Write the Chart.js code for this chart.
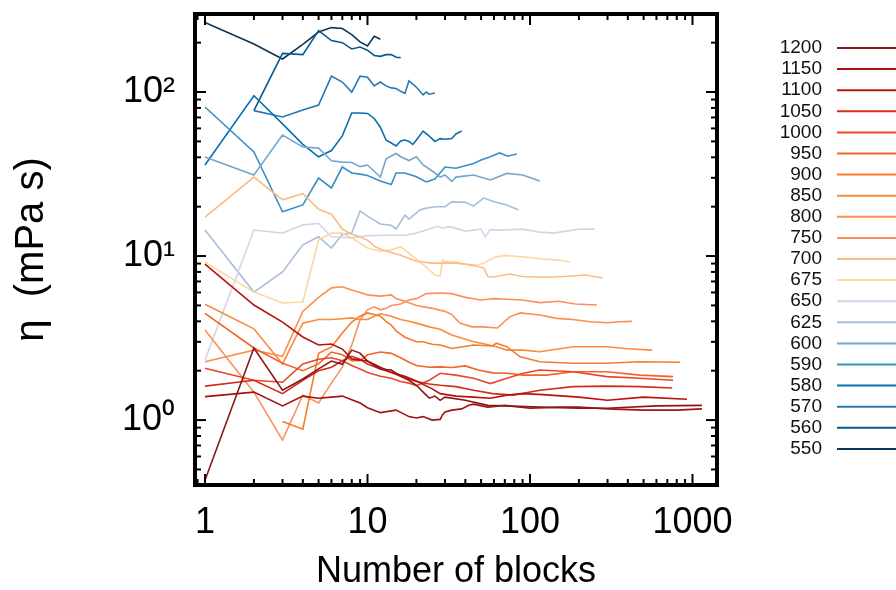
<!DOCTYPE html>
<html>
<head>
<meta charset="utf-8">
<script src="https://cdn.jsdelivr.net/npm/chart.js@4"></script>
<style>
  html, body { margin: 0; background: #fff; }
</style>
</head>
<body>
<canvas id="chart" width="896" height="590"></canvas>
<script>
// viscosity vs number of blocks, one series per temperature
const temps = ['1200', '1150', '1100', '1050', '1000', '950', '900', '850', '800', '750',
               '700', '675', '650', '625', '600', '590', '580', '570', '560', '550'];

const s1200 = [[1,0.43],[2,2.75],[3,1.52],[4,1.78],[5,2.05],[6,2.29],[7,2.19],[8,2.67],[9,2.56],[10,2.29],[12,2.05],[14,2.02],[16,1.85],[18,1.75],[20,1.63],[22,1.48],[24,1.36],[26,1.4],[28,1.32],[30,1.38],[40,1.32],[55,1.23],[70,1.22],[115,1.2],[200,1.18],[300,1.18],[600,1.22],[1143,1.23]];
const s1150 = [[1,1.39],[2,1.48],[3,1.22],[4,1.4],[5,1.36],[6,1.38],[7,1.4],[8,1.33],[9,1.27],[10,1.19],[12,1.11],[15,1.15],[18,1.05],[20,1.03],[22,1.05],[25,1.0],[28,1.01],[29,1.08],[30,1.12],[33,1.15],[38,1.17],[42,1.23],[45,1.25],[55,1.2],[70,1.23],[100,1.18],[150,1.2],[200,1.2],[300,1.17],[500,1.15],[800,1.15],[1143,1.17]];
const s1100 = [[1,8.94],[2,5.03],[3,3.96],[4,3.21],[5,2.87],[6,2.91],[7,2.71],[8,2.36],[9,2.32],[10,2.29],[11,2.19],[12,2.1],[14,1.96],[17,1.85],[20,1.73],[25,1.55],[28,1.45],[35,1.4],[45,1.38],[57,1.36],[72,1.42],[90,1.45],[120,1.43],[200,1.38],[300,1.32],[500,1.38],[925,1.34]];
const s1050 = [[1,1.61],[2,1.75],[3,1.45],[4,1.75],[5,2.0],[6,2.1],[7,2.3],[8,2.45],[9,2.35],[10,2.2],[12,2.05],[14,1.95],[16,1.85],[18,1.78],[20,1.72],[24,1.66],[28,1.63],[35,1.6],[45,1.52],[59,1.45],[79,1.42],[115,1.52],[184,1.6],[297,1.61],[475,1.6],[750,1.57]];
const s1000 = [[1,2.07],[2,1.75],[3,1.7],[4,2.2],[5,2.35],[6,2.4],[7,2.3],[8,2.15],[9,2.05],[10,1.95],[12,1.85],[14,1.8],[16,1.72],[18,1.68],[20,1.62],[24,1.75],[28,1.93],[35,1.88],[45,1.8],[57,1.67],[72,1.8],[91,1.93],[115,2.02],[184,1.97],[297,1.84],[475,1.8],[760,1.75]];
const s950 = [[1,4.47],[2,2.75],[3,2.22],[4,2.0],[5,2.2],[6,2.6],[7,2.5],[8,2.3],[9,2.3],[10,2.5],[12,2.6],[14,2.55],[16,2.4],[18,2.25],[20,2.15],[24,2.1],[28,2.11],[33,2.09],[40,2.14],[48,2.02],[59,1.94],[72,1.93],[91,1.88],[126,1.88],[184,1.97],[297,1.97],[475,1.88],[760,1.84]];
const s900 = [[3,0.98],[4,0.88],[5,2.55],[6,2.79],[7,3.4],[8,3.96],[9,4.3],[10,4.5],[11,4.4],[12,4.3],[13,4.0],[14,3.8],[15,3.5],[17,3.2],[20,3.0],[22,3.0],[25,2.9],[28,2.87],[33,2.73],[45,2.87],[59,2.83],[62,2.94],[72,2.8],[87,2.43],[115,2.27],[184,2.22],[297,2.22],[475,2.27],[838,2.25]];
const s850 = [[1,5.08],[2,3.6],[3,2.2],[4,3.9],[5,4.1],[6,4.1],[7,4.15],[8,4.2],[9,4.1],[10,4.1],[11,4.3],[12,4.45],[14,4.3],[16,4.1],[18,4.0],[20,3.9],[24,3.7],[28,3.58],[33,3.3],[45,3.0],[51,2.93],[62,2.8],[72,2.67],[91,2.67],[115,2.61],[184,2.8],[297,2.8],[400,2.72],[565,2.67]];
const s800 = [[1,2.27],[2,2.67],[3,2.45],[4,4.6],[5,5.6],[6,6.4],[7,6.5],[8,6.2],[9,6.0],[10,5.8],[12,5.7],[14,5.8],[15,5.5],[17,5.3],[20,5.0],[25,4.8],[30,4.6],[33,4.4],[37,3.9],[44,3.7],[51,3.7],[63,3.64],[75,4.26],[87,4.5],[115,4.37],[146,4.17],[184,4.1],[235,3.98],[297,3.92],[357,3.98],[424,4.0]];
const s750 = [[1,3.54],[2,1.48],[3,0.755],[4,1.42],[5,1.27],[6,1.68],[7,2.1],[8,2.87],[9,4.08],[10,4.7],[11,4.9],[12,4.7],[13,4.8],[14,5.0],[16,5.1],[18,5.4],[20,5.5],[23,5.9],[28,5.95],[33,5.9],[40,5.6],[50,5.4],[60,5.5],[72,5.45],[90,5.4],[115,5.2],[150,5.3],[190,5.1],[258,5.03]];
const s700 = [[1,17.3],[2,30.3],[3,22],[4,24],[5,19.3],[6,18],[7,14.6],[8,13.6],[9,13.1],[10,12.5],[11,11.5],[12,11],[14,10.5],[16,10.1],[18,9.67],[20,9.3],[25,9.06],[30,9.06],[35,9.06],[45,8.8],[52,8.45],[55,7.5],[60,7.45],[75,7.77],[90,7.5],[110,7.45],[140,7.45],[180,7.56],[220,7.66],[280,7.35]];
const s675 = [[1,9.19],[2,6.03],[3,5.17],[4,5.25],[5,12.5],[6,13.8],[7,13.8],[8,12.9],[10,11.2],[12,10.7],[14,10.9],[16,11.4],[18,10.4],[20,9.58],[23,8.56],[26,7.66],[28,7.56],[29,9.45],[30,9.3],[35,9.2],[45,8.7],[52,9.06],[60,9.8],[70,10.1],[100,9.8],[120,9.6],[150,9.45],[176,9.19]];
const s650 = [[1,2.32],[2,14.4],[3,13.8],[4,15.5],[5,15.8],[6,13.1],[8,12.9],[10,13.3],[13,13.4],[17,13.4],[20,13.8],[27,15.2],[29,14.8],[32,15.1],[40,14.2],[50,14.6],[53,13.1],[57,14.5],[65,14.4],[90,14.6],[115,14],[140,13.8],[200,14.6],[250,14.6]];
const s625 = [[1,14.4],[2,6.03],[3,8.0],[4,11.7],[5,13.1],[6,11.2],[7,13.6],[8,13.8],[9,18.8],[10,17.5],[12,15.7],[14,15.4],[15,14.6],[17,17.8],[18,16.8],[21,19.1],[23,19.6],[26,20],[30,20],[33,21.4],[40,21.3],[45,20.2],[52,22.6],[60,21.4],[72,20.5],[85,19.1]];
const s600 = [[1,40.1],[2,31.2],[3,54.7],[4,46.2],[5,45.5],[6,38.1],[7,37.4],[8,37.2],[9,35.1],[10,35.9],[12,30.3],[13,39],[14,40.7],[15,42.2],[16,40.3],[18,38.2],[20,40.3],[22,35.9],[25,33],[28,30.3],[30,31.2],[33,28.5],[35,30.3],[45,31.2],[57,29.1],[72,31.9],[90,31.2],[115,28.7]];
const s590 = [[1,81],[2,43.1],[3,18.6],[4,20.5],[5,29.9],[6,26],[7,34.9],[8,32.1],[9,31.6],[10,31],[12,28.7],[14,27.3],[15,32.1],[17,32.1],[20,30.4],[23,28.3],[26,29.5],[30,34.9],[35,34.3],[45,36.7],[50,38.5],[57,40.3],[65,42.5],[73,40.6],[83,41.9]];
const s580 = [[1,35.9],[2,95],[3,64],[4,48],[5,40.3],[6,44],[7,54],[8,74.5],[9,74.5],[10,74],[11,69],[12,61],[13,51],[14,48.9],[15,46.9],[16,50.3],[17,51],[18,50],[19,47.9],[20,51],[22,57.8],[24,53.8],[26,50],[28,52],[30,51.5],[33,52],[35,55.5],[38,57.8]];
const s570 = [[2,77],[3,70.4],[4,77.7],[5,83.3],[6,125],[7,115],[8,100],[9,125],[10,123],[11,109],[12,115],[13,109],[14,106],[15,105],[16,101],[17,98],[18,117],[20,107],[22,96],[23,100],[24,97],[26,98.6]];
const s560 = [[2,77],[3,172],[4,169],[5,237],[6,206],[7,200],[8,183],[9,188],[10,180],[11,167],[12,165],[13,169],[14,169],[15,163],[16,162]];
const s550 = [[1,265],[2,196],[3,159],[4,195],[5,232],[6,247],[7,244],[8,224],[9,202],[10,191],[11,219],[12,210]];

const series = [s1200, s1150, s1100, s1050, s1000, s950, s900, s850, s800, s750,
                s700, s675, s650, s625, s600, s590, s580, s570, s560, s550];

const xTicks = [1, 10, 100, 1000];
const yTicks = [1, 10, 100];

const colors = ['#871a17', '#a3120f', '#b8130d', '#d42c1b', '#e8472a', '#f26524', '#f77b2b', '#fb8b3a',
                '#fc8e4f', '#fb905e', '#fdbb84', '#fdd6a0', '#d5d5ea', '#a8bedc', '#72a8d0', '#3990c2',
                '#0a6fae', '#2678b5', '#045a8d', '#0c3658'];

const fontFamily = "'Liberation Sans', Arial, Helvetica, sans-serif";
const sup = { 1: '\u2070', 10: '\u00b9', 100: '\u00b2' };

const datasets = temps.map((t, i) => ({
  label: t,
  data: series[i].map(p => ({ x: p[0], y: p[1] })),
  borderColor: colors[i],
  backgroundColor: colors[i],
  borderWidth: 1.6,
  pointRadius: 0,
  tension: 0,
  fill: false
}));

function seg(ctx, x1, y1, x2, y2) {
  ctx.beginPath();
  ctx.moveTo(x1, y1);
  ctx.lineTo(x2, y2);
  ctx.stroke();
}

// gnuplot-like frame: thick border with inward ticks on all four sides
const frame = {
  id: 'frame',
  afterDatasetsDraw(chart) {
    const { ctx, chartArea: a, scales: { x, y } } = chart;
    ctx.save();
    ctx.strokeStyle = '#000';
    ctx.lineWidth = 2;
    for (let e = -1; e <= 3; e++) {
      for (let m = 1; m < 10; m++) {
        const v = m * Math.pow(10, e);
        const len = m === 1 ? 11 : 6;
        if (v >= x.min && v <= x.max) {
          const px = x.getPixelForValue(v);
          seg(ctx, px, a.bottom, px, a.bottom - len);
          seg(ctx, px, a.top, px, a.top + len);
        }
        if (v >= y.min && v <= y.max) {
          const py = y.getPixelForValue(v);
          seg(ctx, a.left, py, a.left + len, py);
          seg(ctx, a.right, py, a.right - len, py);
        }
      }
    }
    ctx.lineWidth = 4;
    ctx.strokeRect(a.left, a.top, a.right - a.left, a.bottom - a.top);
    ctx.restore();
  }
};

// key on the right: label then line sample
const keyRows = {
  id: 'keyRows',
  afterDraw(chart) {
    const ctx = chart.ctx;
    ctx.save();
    ctx.font = '19px ' + fontFamily;
    ctx.textAlign = 'right';
    ctx.textBaseline = 'middle';
    chart.data.datasets.forEach((d, i) => {
      const yy = 48 + i * 21.1;
      ctx.fillStyle = '#111';
      ctx.fillText(d.label, 822, yy);
      ctx.strokeStyle = d.borderColor;
      ctx.lineWidth = 2;
      seg(ctx, 837, yy, 896, yy);
    });
    ctx.restore();
  }
};

new Chart(document.getElementById('chart'), {
  type: 'line',
  data: { datasets },
  options: {
    responsive: false,
    animation: false,
    devicePixelRatio: 1,
    layout: { padding: { left: 0, right: 179, top: 14, bottom: 0 } },
    plugins: { legend: { display: false }, tooltip: { enabled: false } },
    scales: {
      x: {
        type: 'logarithmic',
        min: 0.868,
        max: 1415,
        grid: { display: false, drawTicks: false },
        border: { display: false },
        afterBuildTicks: s => { s.ticks = xTicks.map(v => ({ value: v })); },
        afterFit: s => { s.height = 105; s.paddingLeft = 0; s.paddingRight = 0; },
        ticks: {
          autoSkip: false,
          maxRotation: 0,
          padding: 16,
          color: '#000',
          font: { size: 36, family: fontFamily },
          callback: v => String(v)
        },
        title: {
          display: true,
          text: 'Number of blocks',
          color: '#000',
          font: { size: 36, family: fontFamily },
          padding: { top: 0, bottom: -4 }
        }
      },
      y: {
        type: 'logarithmic',
        min: 0.402,
        max: 299,
        grid: { display: false, drawTicks: false },
        border: { display: false },
        afterBuildTicks: s => { s.ticks = yTicks.map(v => ({ value: v })); },
        afterFit: s => { s.width = 195; s.paddingTop = 0; s.paddingBottom = 0; },
        ticks: {
          autoSkip: false,
          padding: 20,
          color: '#000',
          font: { size: 36, family: fontFamily },
          callback: v => '10' + sup[v]
        },
        title: {
          display: true,
          text: '\u03b7  (mPa s)',
          color: '#000',
          font: { size: 40, family: fontFamily },
          padding: { top: 8, bottom: 0 }
        }
      }
    }
  },
  plugins: [frame, keyRows]
});
</script>
</body>
</html>
